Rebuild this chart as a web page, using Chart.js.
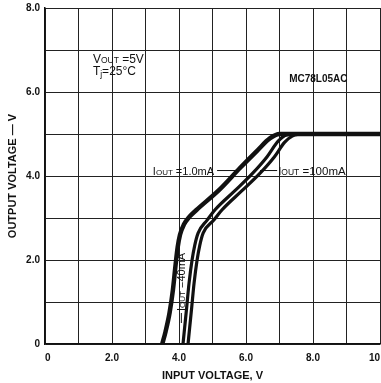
<!DOCTYPE html>
<html><head><meta charset="utf-8">
<script src="https://cdn.jsdelivr.net/npm/chart.js@4"></script>
<style>html,body{margin:0;padding:0;background:#fff}</style>
</head><body>
<canvas id="c" width="381" height="383"></canvas>
<script>
const xTickLabels = ['0','','2.0','','4.0','','6.0','','8.0','','10'];
const yTickLabels = ['0','','2.0','','4.0','','6.0','','8.0'];

const vin1mA   = [3.50, 3.60, 3.72, 3.82, 3.90, 3.96, 4.03, 4.15, 4.30, 4.52, 5.20, 5.82, 6.33, 6.72, 7.00, 7.40, 10.0];
const vout1mA  = [0.00, 0.30, 0.75, 1.30, 1.90, 2.30, 2.60, 2.85, 3.02, 3.19, 3.67, 4.19, 4.60, 4.90, 5.00, 5.00, 5.00];

const vin40mA  = [4.12, 4.17, 4.23, 4.30, 4.39, 4.47, 4.57, 4.84, 5.07, 5.67, 6.18, 6.63, 6.96, 7.22, 7.60, 10.0];
const vout40mA = [0.00, 0.40, 0.88, 1.45, 2.00, 2.35, 2.64, 2.95, 3.19, 3.65, 4.05, 4.46, 4.83, 4.98, 5.00, 5.00];

const vin100mA  = [4.27, 4.32, 4.38, 4.45, 4.54, 4.62, 4.72, 5.04, 5.28, 5.88, 6.40, 6.85, 7.15, 7.38, 7.75, 10.0];
const vout100mA = [0.00, 0.40, 0.88, 1.45, 2.00, 2.35, 2.64, 2.95, 3.19, 3.65, 4.05, 4.46, 4.80, 4.95, 5.00, 5.00];

const pts = (xs, ys) => xs.map((v, i) => ({x: v, y: ys[i]}));
const FONT = '"Liberation Sans", Arial, Helvetica, sans-serif';

function drawRuns(ctx, parts, x0, yb) {
  let x = x0;
  for (const p of parts) {
    ctx.font = (p.b ? 'bold ' : '') + p.s + 'px ' + FONT;
    ctx.fillText(p.t, x, yb + (p.dy || 0));
    x += ctx.measureText(p.t).width;
  }
  return x;
}

const annot = {
  id: 'annot',
  afterDatasetsDraw(chart) {
    const {ctx, scales: {x, y}} = chart;
    ctx.save();
    ctx.fillStyle = '#111';
    ctx.strokeStyle = '#111';
    ctx.textBaseline = 'alphabetic';
    ctx.textAlign = 'left';
    drawRuns(ctx, [{t:'V',s:12},{t:'OUT',s:8.5},{t:' =5V',s:12}], x.getPixelForValue(1.43), y.getPixelForValue(6.69));
    drawRuns(ctx, [{t:'T',s:12},{t:'j',s:8.5,dy:2},{t:'=25°C',s:12}], x.getPixelForValue(1.43), y.getPixelForValue(6.40));
    ctx.textAlign = 'center';
    ctx.font = 'bold 10px ' + FONT;
    ctx.fillText('MC78L05AC', x.getPixelForValue(8.16), y.getPixelForValue(6.24));
    ctx.textAlign = 'left';
    const yl = y.getPixelForValue(4.13);
    const e1 = drawRuns(ctx, [{t:'I',s:11},{t:'OUT',s:8},{t:' =1.0mA',s:11}], x.getPixelForValue(3.22), yl + 4);
    ctx.lineWidth = 1;
    ctx.beginPath();
    ctx.moveTo(e1 + 3, yl); ctx.lineTo(x.getPixelForValue(5.80), yl); ctx.stroke();
    ctx.beginPath();
    ctx.moveTo(x.getPixelForValue(6.42), yl); ctx.lineTo(x.getPixelForValue(6.93), yl); ctx.stroke();
    drawRuns(ctx, [{t:'I',s:11.5},{t:'OUT',s:8.5},{t:' =100mA',s:11.5}], x.getPixelForValue(6.96), yl + 4);
    ctx.save();
    ctx.translate(x.getPixelForValue(4.07) + 4, y.getPixelForValue(0.50));
    ctx.rotate(-Math.PI / 2);
    ctx.beginPath();
    ctx.moveTo(0, -4); ctx.lineTo(10, -4); ctx.stroke();
    drawRuns(ctx, [{t:'I',s:11},{t:'OUT',s:8},{t:' =40mA',s:11}], 12, 0);
    ctx.restore();
    ctx.restore();
  }
};

const lineDs = (data, w) => ({
  data, borderColor: '#111', borderWidth: w, pointRadius: 0,
  fill: false, cubicInterpolationMode: 'monotone', showLine: true
});

new Chart(document.getElementById('c'), {
  type: 'scatter',
  data: { datasets: [
    lineDs(pts(vin1mA, vout1mA), 4.5),
    lineDs(pts(vin40mA, vout40mA), 3.2),
    lineDs(pts(vin100mA, vout100mA), 3.2)
  ] },
  options: {
    responsive: false, animation: false, devicePixelRatio: 1,
    layout: { padding: { left: 0, right: 1, top: 8, bottom: 0 } },
    plugins: { legend: { display: false }, tooltip: { enabled: false } },
    scales: {
      x: {
        type: 'linear', min: 0, max: 10,
        afterFit: s => { s.height = 39; },
        grid: { color: '#222', lineWidth: 1, drawTicks: true, tickLength: 8, tickColor: 'rgba(0,0,0,0)' },
        border: { color: '#111', width: 1.5 },
        ticks: { stepSize: 1, autoSkip: false, maxRotation: 0, align: 'inner', padding: 0,
                 color: '#111', font: { family: FONT, size: 10, weight: 'bold' },
                 callback: (v, i) => xTickLabels[i] },
        title: { display: true, text: 'INPUT VOLTAGE, V', color: '#111',
                 font: { family: FONT, size: 11, weight: 'bold' }, padding: { top: 0, bottom: 0 } }
      },
      y: {
        type: 'linear', min: 0, max: 8,
        afterFit: s => { s.width = 45; },
        grid: { color: '#222', lineWidth: 1, drawTicks: true, tickLength: 5, tickColor: 'rgba(0,0,0,0)' },
        border: { color: '#111', width: 1.5 },
        ticks: { stepSize: 1, autoSkip: false, padding: 0,
                 color: '#111', font: { family: FONT, size: 10, weight: 'bold' },
                 callback: (v, i) => yTickLabels[i] },
        title: { display: true, text: 'OUTPUT VOLTAGE — V', color: '#111',
                 font: { family: FONT, size: 11, weight: 'bold' }, padding: { top: 6, bottom: 0 } }
      }
    }
  },
  plugins: [annot]
});
</script>
</body></html>
